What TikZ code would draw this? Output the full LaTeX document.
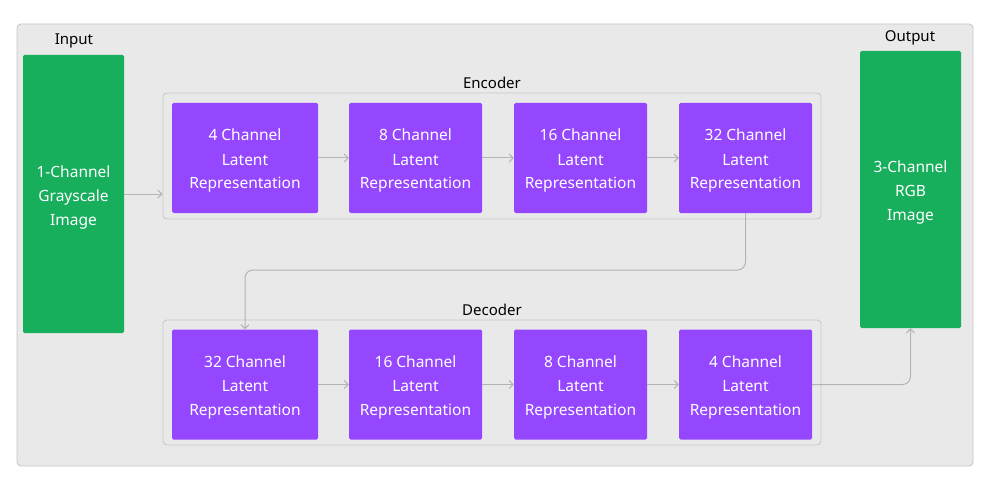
\documentclass[tikz,border=0pt]{standalone}
\usepackage{fontspec}
\setmainfont{Noto Sans}
\usetikzlibrary{arrows.meta}
\definecolor{bgc}{HTML}{E9E9E9}
\definecolor{bdc}{HTML}{C8C8C8}
\definecolor{grn}{HTML}{17AE5C}
\definecolor{pur}{HTML}{9546FF}
\definecolor{arc}{HTML}{B4B4B4}
\tikzset{
  lat/.style={fill=pur, draw=none, rounded corners=1.5pt, text=white, align=center, font=\fontsize{15.5}{24}\selectfont, inner sep=0pt, text height=66pt, text depth=4pt},
  img/.style={fill=grn, draw=none, rounded corners=1.5pt, text=white, align=center, font=\fontsize{15.5}{24}\selectfont, inner sep=0pt, text height=66pt, text depth=4pt},
  cont/.style={fill=bgc, draw=bdc, line width=0.9pt, rounded corners=4pt},
  lbl/.style={text=black, font=\fontsize{15}{18}\selectfont, inner sep=0pt},
  conn/.style={draw=arc, line width=1pt, -{Straight Barb[length=4pt,width=8pt]}, rounded corners=8pt}
}
\begin{document}
\begin{tikzpicture}[x=1pt,y=-1pt]
\useasboundingbox (0,0) rectangle (988,484);
\fill[white] (0,0) rectangle (988,484);
\node[cont, minimum width=956, minimum height=442] (outer) at (495,245) {};
% containers
\node[cont, minimum width=658, minimum height=126] (enc) at (492,156) {};
\node[cont, minimum width=658, minimum height=125] (dec) at (492,382.5) {};
\node[lbl] (enclbl) at (492,82.5) {Encoder};
\node[lbl] (declbl) at (492,309.5) {Decoder};
\node[lbl] (inlbl) at (74,40.5) {Input};
\node[lbl] (outlbl) at (910,37.5) {Output};
% images
\node[img, minimum width=101, minimum height=278] (in) at (73.5,194) {1-Channel\\Grayscale\\Image};
\node[img, minimum width=101, minimum height=277] (out) at (910.5,189.5) {3-Channel\\RGB\\Image};
% encoder
\node[lat, minimum width=146, minimum height=110] (e1) at (245,158) {4 Channel\\Latent\\Representation};
\node[lat, minimum width=133, minimum height=110] (e2) at (415.5,158) {8 Channel\\Latent\\Representation};
\node[lat, minimum width=133, minimum height=110] (e3) at (580.5,158) {16 Channel\\Latent\\Representation};
\node[lat, minimum width=133, minimum height=110] (e4) at (745.5,158) {32 Channel\\Latent\\Representation};
% decoder
\node[lat, minimum width=146, minimum height=110] (d1) at (245,384.5) {32 Channel\\Latent\\Representation};
\node[lat, minimum width=133, minimum height=110] (d2) at (415.5,384.5) {16 Channel\\Latent\\Representation};
\node[lat, minimum width=133, minimum height=110] (d3) at (580.5,384.5) {8 Channel\\Latent\\Representation};
\node[lat, minimum width=133, minimum height=110] (d4) at (745.5,384.5) {4 Channel\\Latent\\Representation};
% connectors
\draw[conn] (in.east) -- (in.east -| enc.west);
\draw[conn] (e1) -- (e2);
\draw[conn] (e2) -- (e3);
\draw[conn] (e3) -- (e4);
\coordinate (mid) at (245,270);
\draw[conn] (e4.south) |- (mid) -- (d1.north);
\draw[conn] (d1) -- (d2);
\draw[conn] (d2) -- (d3);
\draw[conn] (d3) -- (d4);
\draw[conn] (d4.east) -| (out.south);
\end{tikzpicture}
\end{document}
